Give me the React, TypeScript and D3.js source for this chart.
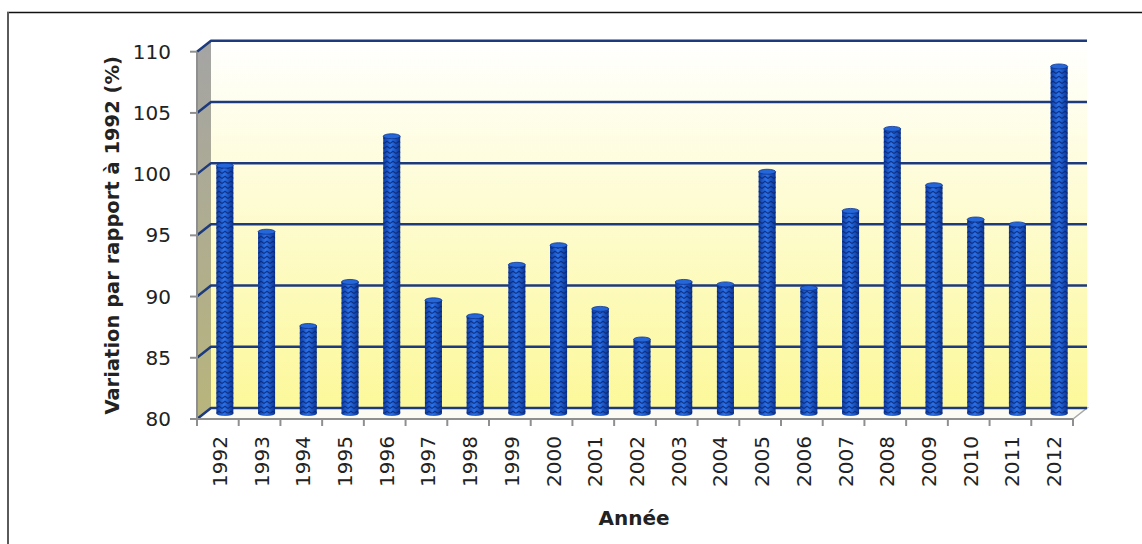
import React, { useEffect, useRef } from "react";
import * as d3 from "d3";

// data
const years = [
  "1992", "1993", "1994", "1995", "1996", "1997", "1998", "1999", "2000", "2001", "2002",
  "2003", "2004", "2005", "2006", "2007", "2008", "2009", "2010", "2011", "2012",
];
const values = [
  100, 94.6, 86.9, 90.5, 102.4, 89.0, 87.7, 91.9, 93.5, 88.3, 85.8,
  90.5, 90.3, 99.5, 90.0, 96.3, 103.0, 98.4, 95.6, 95.2, 108.1,
];
const yTicks = [80, 85, 90, 95, 100, 105, 110];
const yTitle = "Variation par rapport à 1992 (%)";
const xTitle = "Année";

const App = () => {
  const ref = useRef<SVGSVGElement>(null);

  useEffect(() => {
    const width = 1142;
    const height = 544;
    const svg = d3.select(ref.current).attr("viewBox", [0, 0, width, height] as any);
    svg.selectAll("*").remove();

    const font = "'DejaVu Sans', Verdana, sans-serif";
    const dx = 14; // 3d depth
    const dy = -11;
    const left = 197;
    const right = 1073;

    const x = d3.scaleBand<string>().domain(years).range([left, right]);
    // front plane scale
    const y = d3.scaleLinear().domain([80, 110]).range([419, 51.7]);
    const bw = 17;

    const defs = svg.append("defs");
    const wall = defs.append("linearGradient").attr("id", "wall")
      .attr("x1", 0).attr("y1", 0).attr("x2", 0).attr("y2", 1);
    wall.append("stop").attr("offset", "0%").attr("stop-color", "#ffffff");
    wall.append("stop").attr("offset", "100%").attr("stop-color", "#fcf89a");

    const side = defs.append("linearGradient").attr("id", "side")
      .attr("x1", 0).attr("y1", 0).attr("x2", 0).attr("y2", 1);
    side.append("stop").attr("offset", "0%").attr("stop-color", "#a4a4a4");
    side.append("stop").attr("offset", "100%").attr("stop-color", "#b9b57c");

    const cyl = defs.append("linearGradient").attr("id", "cyl")
      .attr("x1", 0).attr("y1", 0).attr("x2", 1).attr("y2", 0);
    cyl.append("stop").attr("offset", "0%").attr("stop-color", "#0c3aa0");
    cyl.append("stop").attr("offset", "45%").attr("stop-color", "#2a72ea");
    cyl.append("stop").attr("offset", "100%").attr("stop-color", "#0b3494");

    const zig = defs.append("pattern").attr("id", "zig")
      .attr("patternUnits", "userSpaceOnUse")
      .attr("width", 6).attr("height", 5);
    zig.append("path")
      .attr("d", "M0,3.5 L3,1.2 L6,3.5")
      .attr("fill", "none")
      .attr("stroke", "#0a2470")
      .attr("stroke-width", 1.1)
      .attr("opacity", 0.8);

    // outer frame
    svg.append("line").attr("x1", 7).attr("x2", width).attr("y1", 12.5).attr("y2", 12.5)
      .attr("stroke", "#111").attr("stroke-width", 1.5);
    svg.append("line").attr("x1", 8).attr("x2", 8).attr("y1", 12).attr("y2", height)
      .attr("stroke", "#5a5a5a").attr("stroke-width", 2);

    // walls
    svg.append("rect")
      .attr("x", left + dx).attr("y", y(110) + dy)
      .attr("width", right - left).attr("height", y(80) - y(110))
      .attr("fill", "url(#wall)");
    svg.append("polygon")
      .attr("points", [[left, y(110)], [left + dx, y(110) + dy], [left + dx, y(80) + dy], [left, y(80)]].join(" "))
      .attr("fill", "url(#side)");
    svg.append("polygon")
      .attr("points", [[left, y(80)], [left + dx, y(80) + dy], [right + dx, y(80) + dy], [right, y(80)]].join(" "))
      .attr("fill", "#fbfbf4")
      .attr("stroke", "#a8a8a8")
      .attr("stroke-width", 1.5);

    // grid lines
    svg.append("g").selectAll("path").data(yTicks).join("path")
      .attr("d", (t) => `M${left},${y(t)} L${left + dx},${y(t) + dy} L${right + dx},${y(t) + dy}`)
      .attr("fill", "none")
      .attr("stroke", "#1c3a7c")
      .attr("stroke-width", 2.5)
      .attr("stroke-linejoin", "round");

    // y axis
    svg.append("line").attr("x1", left).attr("x2", left).attr("y1", y(110)).attr("y2", y(80))
      .attr("stroke", "#8f8f8f").attr("stroke-width", 2);
    svg.append("g").selectAll("line").data(yTicks).join("line")
      .attr("x1", left - 7).attr("x2", left).attr("y1", (t) => y(t)).attr("y2", (t) => y(t))
      .attr("stroke", "#8f8f8f").attr("stroke-width", 2);
    svg.append("g").selectAll("text").data(yTicks).join("text")
      .attr("x", 171).attr("y", (t) => y(t))
      .attr("text-anchor", "end").attr("dominant-baseline", "central")
      .attr("font-family", font).attr("font-size", 20).attr("fill", "#222")
      .text((t) => t);

    // x axis
    svg.append("line").attr("x1", left).attr("x2", right).attr("y1", y(80)).attr("y2", y(80))
      .attr("stroke", "#8f8f8f").attr("stroke-width", 2);
    const edges = years.map((d) => x(d)!).concat([right]);
    svg.append("g").selectAll("line").data(edges).join("line")
      .attr("x1", (e) => e).attr("x2", (e) => e).attr("y1", y(80)).attr("y2", y(80) + 7)
      .attr("stroke", "#8f8f8f").attr("stroke-width", 2);

    // bars (cylinders)
    const bars = svg.append("g").selectAll("g").data(years).join("g");
    const bottom = y(80) + dy / 2;
    bars.each(function (d, i) {
      const g = d3.select(this);
      const cx = x(d)! + x.bandwidth() / 2 + dx / 2;
      const top = y(values[i]) + dy + 2.5;
      g.append("ellipse").attr("cx", cx).attr("cy", bottom).attr("rx", bw / 2).attr("ry", 2.5)
        .attr("fill", "url(#cyl)");
      g.append("rect").attr("x", cx - bw / 2).attr("y", top).attr("width", bw).attr("height", bottom - top)
        .attr("fill", "url(#cyl)");
      g.append("rect").attr("x", cx - bw / 2).attr("y", top).attr("width", bw).attr("height", bottom - top)
        .attr("fill", "url(#zig)");
      g.append("ellipse").attr("cx", cx).attr("cy", top).attr("rx", bw / 2).attr("ry", 2.5)
        .attr("fill", "#2566d8").attr("stroke", "#0e3590").attr("stroke-width", 0.8);
    });

    // x tick labels
    svg.append("g").selectAll("text").data(years).join("text")
      .attr("transform", (d) => `translate(${x(d)! + x.bandwidth() / 2 + 2},436) rotate(-90)`)
      .attr("text-anchor", "end").attr("dominant-baseline", "central")
      .attr("font-family", font).attr("font-size", 20).attr("fill", "#222")
      .text((d) => d);

    // axis titles
    svg.append("text")
      .attr("transform", `translate(112,${(y(110) + y(80)) / 2}) rotate(-90)`)
      .attr("text-anchor", "middle").attr("dominant-baseline", "central")
      .attr("font-family", font).attr("font-size", 19.5).attr("font-weight", "bold").attr("fill", "#222")
      .text(yTitle);
    svg.append("text")
      .attr("x", 634).attr("y", 518)
      .attr("text-anchor", "middle").attr("dominant-baseline", "central")
      .attr("font-family", font).attr("font-size", 20).attr("font-weight", "bold").attr("fill", "#222")
      .text(xTitle);
  }, []);

  return (
    <svg
      ref={ref}
      width={1142}
      height={544}
      style={{ position: "absolute", left: 0, top: 0, display: "block", background: "#fff" }}
    />
  );
};

export default App;
